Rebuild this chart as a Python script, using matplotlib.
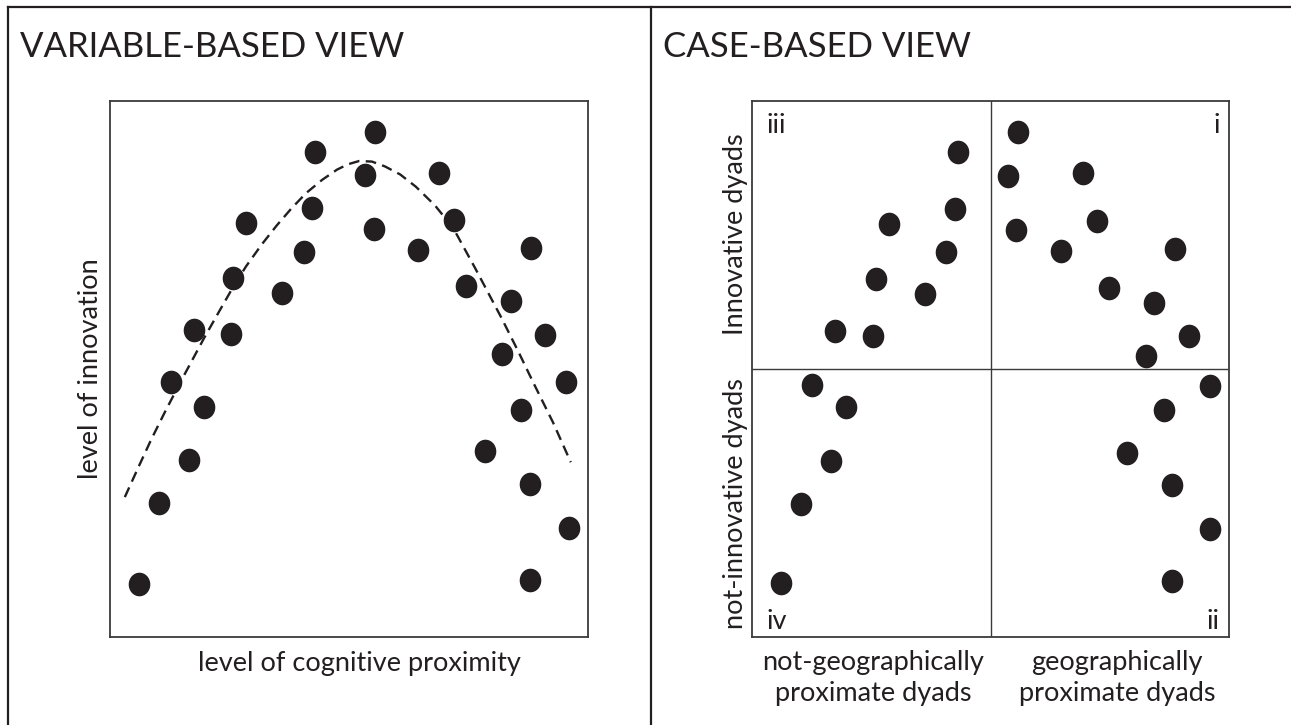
import matplotlib
matplotlib.use("Agg")
import matplotlib.pyplot as plt
from matplotlib.path import Path
from matplotlib.transforms import Affine2D
from matplotlib.lines import Line2D

# ---------------- data (0-100 scale on each axis) ----------------
left_x = [6.1, 10.3, 12.8, 16.5, 17.6, 19.7, 25.3, 25.7, 28.5, 36.0,
          40.6, 42.3, 42.8, 53.4, 55.4, 55.2, 64.4, 68.8, 72.0, 74.4,
          78.5, 82.0, 83.8, 86.0, 87.9, 87.9, 88.1, 91.0, 95.4, 96.0]
left_y = [9.9, 25.0, 47.5, 33.0, 57.3, 42.9, 56.5, 67.0, 77.2, 64.2,
          71.9, 80.0, 90.5, 86.2, 94.3, 76.1, 72.2, 86.6, 77.8, 65.5,
          34.7, 52.8, 62.6, 42.4, 28.5, 10.6, 72.6, 56.4, 47.5, 20.3]

trend_x = [3.1, 5.9, 8.6, 11.5, 15.3, 19.7, 23.0, 25.7, 28.5, 31.8,
           34.9, 37.9, 41.0, 44.4, 47.5, 49.8, 52.1, 54.8, 57.5, 60.7,
           64.0, 68.0, 71.8, 76.4, 81.8, 85.4, 88.7, 92.7, 96.4]
trend_y = [26.1, 31.6, 36.8, 42.0, 48.5, 55.8, 61.0, 65.2, 69.2, 73.3,
           76.8, 79.9, 82.8, 85.3, 87.2, 88.2, 88.8, 88.7, 87.8, 86.3,
           84.0, 80.5, 76.3, 68.8, 59.7, 53.3, 47.2, 40.0, 32.6]

right_x = [17.5, 25.3, 25.9, 28.7, 36.2, 40.7, 42.5, 43.1,          # iii
           55.7, 53.7, 55.4, 64.7, 69.3, 72.3, 74.8, 84.3, 88.7, 91.7, 82.5,  # i
           12.6, 19.7, 16.5, 10.2, 6.1,                              # iv
           96.1, 86.4, 78.6, 88.0, 96.1, 88.0]                       # ii
right_y = [57.0, 56.2, 66.7, 77.1, 64.0, 71.8, 79.9, 90.4,
           94.3, 86.1, 75.9, 72.0, 86.6, 77.7, 65.2, 62.3, 72.4, 56.2, 52.5,
           47.1, 42.9, 32.8, 24.9, 10.0,
           46.8, 42.3, 34.4, 28.4, 20.1, 10.4]

left_title = "VARIABLE-BASED VIEW"
right_title = "CASE-BASED VIEW"
left_xlabel = "level of cognitive proximity"
left_ylabel = "level of innovation"
right_ylabels = ["Innovative dyads", "not-innovative dyads"]
right_xlabels = ["not-geographically\nproximate dyads", "geographically\nproximate dyads"]
quadrant_labels = ["iii", "i", "iv", "ii"]

# ---------------- style ----------------
W, H = 1291, 725
INK = "#231f20"
FONT = ["Lato", "DejaVu Sans"]
plt.rcParams["font.family"] = FONT

fig = plt.figure(figsize=(W / 100, H / 100), dpi=100)

def fx(px):
    return px / W

def fy(py):
    return 1 - py / H

# outer frame lines
for (x0, y0, x1, y1) in [(8, 7, W, 7), (8, 7, 8, H), (651, 7, 651, H)]:
    fig.add_artist(Line2D([fx(x0), fx(x1)], [fy(y0), fy(y1)],
                          transform=fig.transFigure, color=INK, lw=1.6))

ellipse = Path.unit_circle().transformed(Affine2D().scale(1.0, 1.1))
MS = 16

def make_ax(x0, x1, y0, y1):
    ax = fig.add_axes([fx(x0), fy(y1), fx(x1) - fx(x0), fy(y0) - fy(y1)])
    ax.set_xlim(0, 100)
    ax.set_ylim(0, 100)
    ax.set_xticks([])
    ax.set_yticks([])
    for s in ax.spines.values():
        s.set_color("#3a3a3a")
        s.set_linewidth(1.3)
    return ax

axL = make_ax(110, 588, 101, 637)
axL.plot(trend_x, trend_y, ls=(0, (4.5, 2.7)), color=INK, lw=1.7, zorder=2,
         solid_joinstyle="round")
axL.plot(left_x, left_y, ls="none", marker=ellipse, ms=MS, color=INK, zorder=3)

axR = make_ax(752, 1229, 101, 637)
axR.axvline(50, color="#3a3a3a", lw=1.0)
axR.axhline(50, color="#3a3a3a", lw=1.0)
axR.plot(right_x, right_y, ls="none", marker=ellipse, ms=MS, color=INK, zorder=3)

FS_T = 25
FS = 19.5
fig.text(fx(20), fy(57), left_title, fontsize=FS_T, color=INK, ha="left", va="baseline")
fig.text(fx(663), fy(57), right_title, fontsize=FS_T, color=INK, ha="left", va="baseline")

fig.text(fx(359), fy(663), left_xlabel, fontsize=FS, color=INK, ha="center", va="center")
fig.text(fx(91), fy(369), left_ylabel, fontsize=FS, color=INK, ha="center", va="center",
         rotation=90)

fig.text(fx(735), fy(234), right_ylabels[0], fontsize=FS, color=INK, ha="center",
         va="center", rotation=90)
fig.text(fx(735), fy(504), right_ylabels[1], fontsize=FS, color=INK, ha="center",
         va="center", rotation=90)

fig.text(fx(873), fy(650), right_xlabels[0], fontsize=FS, color=INK, ha="center",
         va="top", linespacing=1.3, multialignment="center")
fig.text(fx(1117), fy(650), right_xlabels[1], fontsize=FS, color=INK, ha="center",
         va="top", linespacing=1.3, multialignment="center")

fig.text(fx(766), fy(133), quadrant_labels[0], fontsize=FS, color=INK, ha="left", va="baseline")
fig.text(fx(1220), fy(133), quadrant_labels[1], fontsize=FS, color=INK, ha="right", va="baseline")
fig.text(fx(766), fy(629), quadrant_labels[2], fontsize=FS, color=INK, ha="left", va="baseline")
fig.text(fx(1220), fy(629), quadrant_labels[3], fontsize=FS, color=INK, ha="right", va="baseline")

fig.savefig("out.png", dpi=100, facecolor="white")
